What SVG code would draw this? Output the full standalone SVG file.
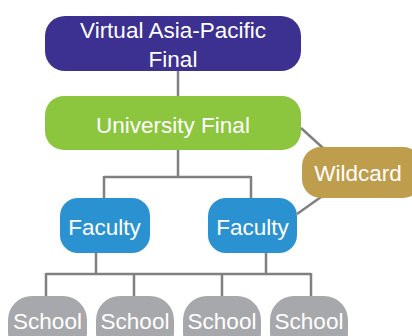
<svg xmlns="http://www.w3.org/2000/svg" width="412" height="336" viewBox="0 0 412 336">
<style>
.lbl{font-family:"Liberation Sans",Arial,Helvetica,sans-serif;font-size:22.5px;fill:#ffffff;text-anchor:middle}
.ln{stroke:#808080;stroke-width:2.5;fill:none}
</style>
<rect width="412" height="336" fill="#ffffff"/>
<g id="connectors">
<path class="ln" d="M178 71V96"/>
<path class="ln" d="M178 150V177M104 177H251M104 176V198M251 176V198"/>
<path class="ln" d="M301 128L323 148"/>
<path class="ln" d="M321 197L297 214"/>
<path class="ln" d="M96 253V274M266 253V274M46 274H311M46 273V297M134 273V297M222 273V297M311 273V297"/>
</g>
<g id="node-virtual">
<rect x="45" y="16" width="256" height="55" rx="20" fill="#3c3190"/>
<text class="lbl" x="173" y="37.5">Virtual Asia-Pacific</text>
<text class="lbl" x="173" y="66.5">Final</text>
</g>
<g id="node-university">
<rect x="45" y="96" width="256" height="54" rx="19" fill="#8cc63f"/>
<text class="lbl" x="173" y="133">University Final</text>
</g>
<g id="node-wildcard">
<rect x="302" y="147" width="120" height="51" rx="19" fill="#be9e4c"/>
<text class="lbl" x="358" y="180.5">Wildcard</text>
</g>
<g id="node-faculty1">
<rect x="60" y="198" width="90" height="55" rx="18" fill="#2b92d2"/>
<text class="lbl" x="104.5" y="235">Faculty</text>
</g>
<g id="node-faculty2">
<rect x="208" y="198" width="89" height="55" rx="18" fill="#2b92d2"/>
<text class="lbl" x="252.5" y="235">Faculty</text>
</g>
<g id="node-school1">
<rect x="8" y="296" width="79" height="60" rx="24" fill="#a7a8ab"/>
<text class="lbl" x="47.5" y="328.5">School</text>
</g>
<g id="node-school2">
<rect x="96" y="296" width="78" height="60" rx="24" fill="#a7a8ab"/>
<text class="lbl" x="135" y="328.5">School</text>
</g>
<g id="node-school3">
<rect x="183" y="296" width="78" height="60" rx="24" fill="#a7a8ab"/>
<text class="lbl" x="222" y="328.5">School</text>
</g>
<g id="node-school4">
<rect x="270" y="296" width="78" height="60" rx="24" fill="#a7a8ab"/>
<text class="lbl" x="309" y="328.5">School</text>
</g>
</svg>
